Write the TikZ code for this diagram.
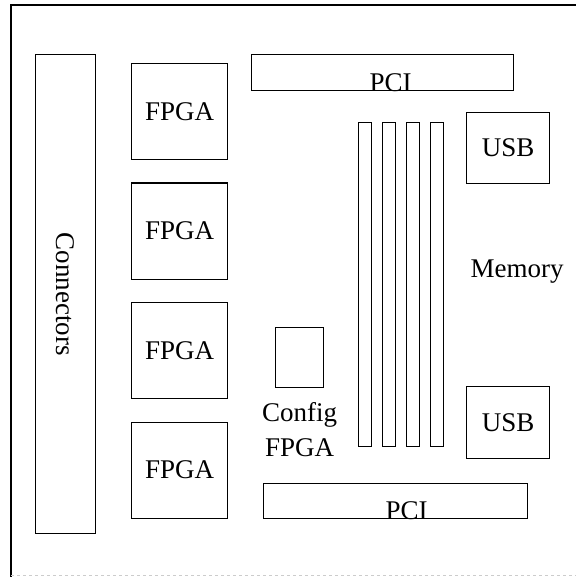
\documentclass[tikz,border=0pt]{standalone}
\usepackage{fontspec}
\setmainfont{Liberation Serif}
\usetikzlibrary{positioning}

\begin{document}
\begin{tikzpicture}[
    x=1pt, y=-1pt,
    part/.style={draw, line width=1.2pt, inner sep=0pt, anchor=north west},
    lbl/.style={font=\fontsize{27}{35}\selectfont, inner sep=0pt},
    slot/.style={part, minimum width=13pt, minimum height=324pt}
]
\useasboundingbox (0,0) rectangle (576,577);
% board outline
\draw[line width=1.2pt] (11,577) -- (11,5) -- (576,5);
\draw[gray!40, dashed, line width=0.8pt] (11,575) -- (576,575);

% left side
\node[part, minimum width=60pt, minimum height=479pt] (conn) at (35,54) {};
\node[lbl, rotate=-90] (connlbl) at (conn.center) {Connectors};
\foreach \i/\y in {1/63, 2/182.5, 3/302, 4/421.5}{
  \node[part, minimum width=96pt, minimum height=96pt] (fpga\i) at (131,\y) {};
  \node[lbl] (fpgalbl\i) at (fpga\i.center) {FPGA};
}

% PCI slots
\node[part, minimum width=262pt, minimum height=36pt] (pcitop) at (251,54) {};
\node[lbl, anchor=base] (pcitoplbl) at ([xshift=8pt]pcitop.south) {PCI};
\node[part, minimum width=264pt, minimum height=35pt] (pcibot) at (263,483) {};
\node[lbl, anchor=base] (pcibotlbl) at ([xshift=11pt]pcibot.south) {PCI};

% config FPGA
\node[part, minimum width=48pt, minimum height=60pt] (cfg) at (275,327) {};
\node[lbl, align=center, anchor=north] (cfglbl) at ([yshift=-14pt]cfg.south) {Config\\FPGA};

% memory
\foreach \i/\x in {1/358, 2/382, 3/406, 4/430}{
  \node[slot] (mem\i) at (\x,122) {};
}
\node[lbl] (memlbl) at (517,272) {Memory};

% USB
\node[part, minimum width=83pt, minimum height=71pt] (usbtop) at (466,112) {};
\node[lbl] (usbtoplbl) at (usbtop.center) {USB};
\node[part, minimum width=83pt, minimum height=72pt] (usbbot) at (466,386) {};
\node[lbl] (usbbotlbl) at (usbbot.center) {USB};
\end{tikzpicture}
\end{document}
